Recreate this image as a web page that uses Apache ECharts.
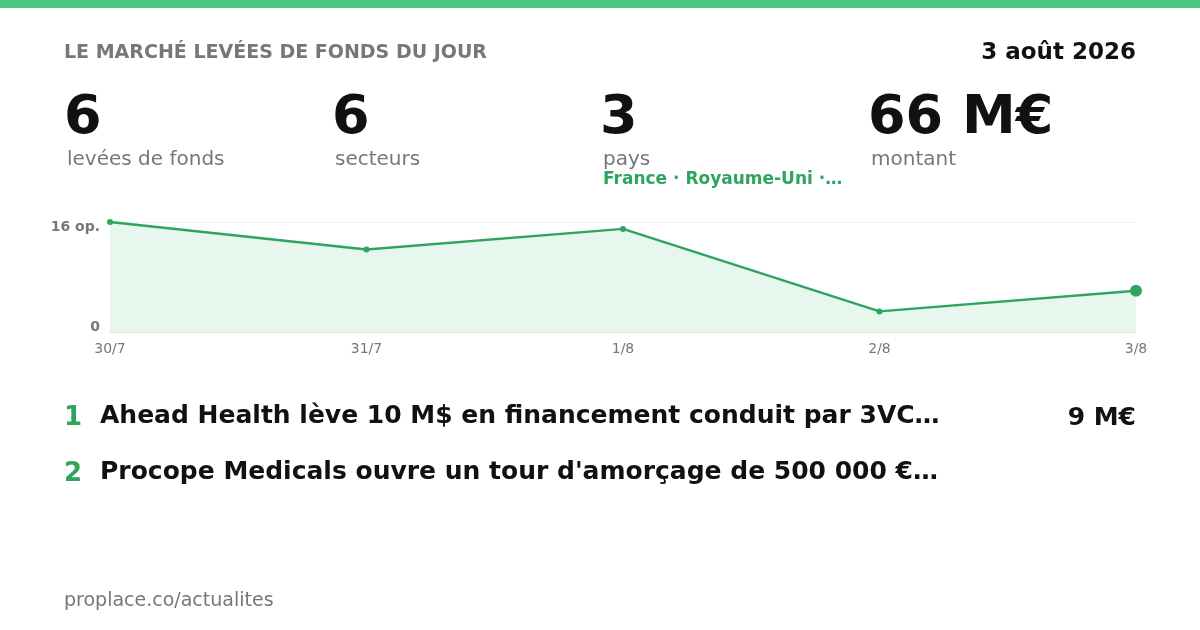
<!DOCTYPE html>
<html><head><meta charset="utf-8">
<script src="https://cdn.jsdelivr.net/npm/echarts@6/dist/echarts.min.js"></script>
<style>html,body{margin:0;padding:0;background:#fff}#c{width:1200px;height:630px}</style>
</head><body><div id="c"></div>
<script>
const days = ['30/7','31/7','1/8','2/8','3/8'];
const counts = [16, 12, 15, 3, 6];
const stats = [['6','levées de fonds'],['6','secteurs'],['3','pays'],['66 M€','montant']];
const countries = 'France · Royaume-Uni ·…';
const deals = ['Ahead Health lève 10 M$ en financement conduit par 3VC…', "Procope Medicals ouvre un tour d'amorçage de 500 000 €…"];
const dealAmounts = ['9 M€', ''];
const F = 'DejaVu Sans';
const g = [
 {type:'rect',shape:{x:0,y:0,width:1200,height:8},style:{fill:'#4cc77f'}},
 {type:'text',x:64,y:53,style:{text:'LE MARCHÉ LEVÉES DE FONDS DU JOUR',font:'bold 19px '+F,fill:'#777',textVerticalAlign:'middle'}},
 {type:'text',x:1136,y:53,style:{text:'3 août 2026',font:'bold 23px '+F,fill:'#111',textAlign:'right',textVerticalAlign:'middle'}},
 {type:'text',x:64,y:601,style:{text:'proplace.co/actualites',font:'19px '+F,fill:'#777',textVerticalAlign:'middle'}},
 {type:'text',x:603,y:180,style:{text:countries,font:'bold 17px '+F,fill:'#2ea55f',textVerticalAlign:'middle'}}
];
stats.forEach((s,i)=>{
 const x=64+i*268;
 g.push({type:'text',x:x,y:119,style:{text:s[0],font:'bold 54px '+F,fill:'#111',textVerticalAlign:'middle'}});
 g.push({type:'text',x:x+3,y:160,style:{text:s[1],font:'20px '+F,fill:'#777',textVerticalAlign:'middle'}});
});
deals.forEach((d,i)=>{
 const y=416+i*56;
 g.push({type:'text',x:64,y:y+2,style:{text:String(i+1),font:'bold 26px '+F,fill:'#2ea55f',textVerticalAlign:'middle'}});
 g.push({type:'text',x:100,y:y,style:{text:d,font:'bold 25px '+F,fill:'#111',textVerticalAlign:'middle'}});
 if(dealAmounts[i]) g.push({type:'text',x:1136,y:y+2,style:{text:dealAmounts[i],font:'bold 25px '+F,fill:'#111',textAlign:'right',textVerticalAlign:'middle'}});
});
const chart = echarts.init(document.getElementById('c'));
chart.setOption({
 animation:false,
 grid:{left:110,right:64,top:222,bottom:298},
 xAxis:{type:'category',data:days,boundaryGap:false,axisTick:{show:false},
  axisLine:{lineStyle:{color:'#e6e6e6'}},
  axisLabel:{color:'#777',fontFamily:F,fontSize:14,margin:10,interval:0}},
 yAxis:{type:'value',min:0,max:16,interval:16,
  axisLabel:{color:'#777',fontFamily:F,fontSize:14,fontWeight:'bold',margin:10,
   formatter:v=>v===16?'{a|16 op.}':'{b|0}',
   rich:{a:{padding:[10,0,0,0],color:'#777',fontFamily:F,fontSize:14,fontWeight:'bold'},
         b:{padding:[0,0,10,0],color:'#777',fontFamily:F,fontSize:14,fontWeight:'bold'}}},
  splitLine:{lineStyle:{color:'#f0f0f0'}}},
 series:[{type:'line',data:counts.map((v,i)=>({value:v,symbolSize:i===counts.length-1?12:6})),
  symbol:'circle',lineStyle:{color:'#2ea55f',width:2.5},itemStyle:{color:'#2ea55f'},
  areaStyle:{color:'#e8f7ee',opacity:1}}],
 graphic:g
});
</script></body></html>
